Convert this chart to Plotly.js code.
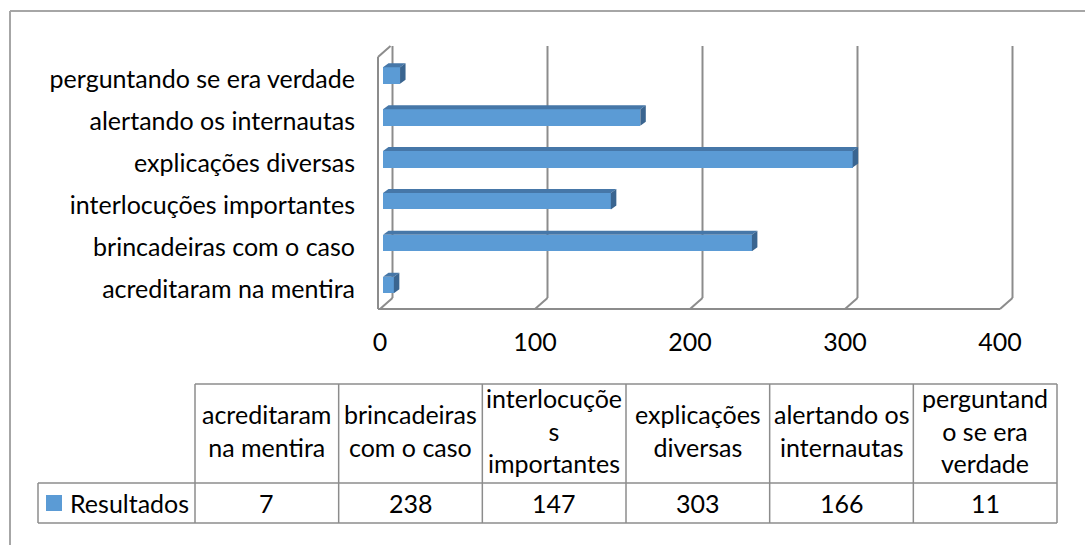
<!DOCTYPE html>
<html>
<head>
<meta charset="utf-8">
<script src="https://cdn.plot.ly/plotly-3.0.1.min.js"></script>
<style>html,body{margin:0;padding:0;background:#fff;}#chart{width:1085px;height:545px;}</style>
</head>
<body>
<div id="chart"></div>
<script>
// ---- data ----
const categories = ["acreditaram na mentira","brincadeiras com o caso","interlocuções importantes","explicações diversas","alertando os internautas","perguntando se era verdade"];
const values = [7, 238, 147, 303, 166, 11];
const tableHeaders = ["acreditaram<br>na mentira","brincadeiras<br>com o caso","interlocuçõe<br>s<br>importantes","explicações<br>diversas","alertando os<br>internautas","perguntand<br>o se era<br>verdade"];
const seriesName = "Resultados";
const xTicks = [0, 100, 200, 300, 400];

// ---- geometry (pixels -> axis units) ----
const W = 1085, H = 545;
const M = {l: 370, r: 65, t: 40, b: 225};
const PW = W - M.l - M.r, PH = H - M.t - M.b;
const PXU = 1.55;      // px per x unit
const PYU = 41.9;      // px per category
const x0px = 380;      // pixel of x=0 on front plane
const c0px = 285;      // pixel of category 0 centre
const xRange = [(M.l - x0px) / PXU, (M.l + PW - x0px) / PXU];
const yRange = [(c0px - (M.t + PH)) / PYU, (c0px - M.t) / PYU];
const FONT = "Lato, 'Liberation Sans', sans-serif";
const FS = 25;

const base = 3 / PXU;          // bar front offset
const half = 16.5 / PYU / 2;   // half bar height
const ddx = 5.5 / PXU, ddy = 4 / PYU; // bar depth
const DX = 12.5 / PXU, DY = 11 / PYU; // wall depth
const yFloor = (c0px - 309) / PYU;
const yTop = (c0px - 57) / PYU;
const xLeft = (378 - x0px) / PXU;

const idx = categories.map((_, i) => i);

// 3D faces
let topX = [], topY = [], sideX = [], sideY = [];
values.forEach((v, i) => {
  const yt = i + half, yb = i - half;
  topX.push(base, base + v, base + v + ddx, base + ddx, base, null);
  topY.push(yt, yt, yt + ddy, yt + ddy, yt, null);
  sideX.push(base + v, base + v + ddx, base + v + ddx, base + v, base + v, null);
  sideY.push(yb, yb + ddy, yt + ddy, yt, yb, null);
});

const traces = [
  {type: 'bar', orientation: 'h', y: idx, x: values, base: base, width: half * 2,
   marker: {color: '#5B9BD5', line: {width: 0}}, name: seriesName, hoverinfo: 'x+text', text: categories, textposition: 'none'},
  {type: 'scatter', mode: 'lines', x: topX, y: topY, fill: 'toself', fillcolor: '#4677A8',
   line: {width: 0, color: '#4677A8'}, hoverinfo: 'skip', showlegend: false},
  {type: 'scatter', mode: 'lines', x: sideX, y: sideY, fill: 'toself', fillcolor: '#3A6590',
   line: {width: 0, color: '#3A6590'}, hoverinfo: 'skip', showlegend: false}
];

const gridCol = '#8C8C8C';
const shapes = [];
function dline(x1, y1, x2, y2) {
  shapes.push({type: 'line', xref: 'x', yref: 'y', x0: x1, y0: y1, x1: x2, y1: y2,
    line: {color: gridCol, width: 2}, layer: 'below'});
}
// left wall
dline(xLeft, yFloor, xLeft, yTop);
dline(xLeft, yTop, xLeft + DX, yTop + DY);
// floor front
dline(xLeft, yFloor, xTicks[xTicks.length - 1], yFloor);
xTicks.forEach(t => {
  dline(t, yFloor, t + DX, yFloor + DY);
  dline(t + DX, yFloor + DY, t + DX, yTop + DY);
});

// paper helpers
const px2x = p => (p - M.l) / PW;
const py2y = p => (M.t + PH - p) / PH;
function pline(xa, ya, xb, yb, col, w) {
  shapes.push({type: 'line', xref: 'paper', yref: 'paper', x0: px2x(xa), y0: py2y(ya), x1: px2x(xb), y1: py2y(yb),
    line: {color: col || '#8C8C8C', width: w || 1.5}});
}
// outer chart border
pline(10, 11, 1100, 11, '#A6A6A6', 2);
pline(10, 11, 10, 560, '#A6A6A6', 2);

// data table
const tL = 195, tR = 1057, tTop = 384, tMid = 483, tBot = 523, legL = 38;
const colW = (tR - tL) / categories.length;
pline(tL, tTop, tR, tTop);
pline(legL, tMid, tR, tMid);
pline(legL, tBot, tR, tBot);
pline(legL, tMid, legL, tBot);
for (let k = 0; k <= categories.length; k++) {
  pline(tL + k * colW, tTop, tL + k * colW, tBot);
}
// legend key
shapes.push({type: 'rect', xref: 'paper', yref: 'paper', x0: px2x(46), x1: px2x(62), y0: py2y(495), y1: py2y(511),
  fillcolor: '#5B9BD5', line: {width: 0}});

const annotations = [];
tableHeaders.forEach((h, k) => {
  annotations.push({xref: 'paper', yref: 'paper', x: px2x(tL + (k + 0.5) * colW), y: py2y((tTop + tMid) / 2 - 3),
    text: h, showarrow: false, xanchor: 'center', yanchor: 'middle', align: 'center',
    font: {family: FONT, size: FS, color: '#000'}});
});
values.forEach((v, k) => {
  annotations.push({xref: 'paper', yref: 'paper', x: px2x(tL + (k + 0.5) * colW), y: py2y((tMid + tBot) / 2),
    text: String(v), showarrow: false, xanchor: 'center', yanchor: 'middle',
    font: {family: FONT, size: FS, color: '#000'}});
});
annotations.push({xref: 'paper', yref: 'paper', x: px2x(68), y: py2y((tMid + tBot) / 2),
  text: seriesName, showarrow: false, xanchor: 'left', yanchor: 'middle',
  font: {family: FONT, size: FS, color: '#000'}});

const layout = {
  width: W, height: H, margin: M, paper_bgcolor: '#fff', plot_bgcolor: 'rgba(0,0,0,0)',
  showlegend: false, bargap: 0,
  font: {family: FONT, size: FS, color: '#000'},
  xaxis: {range: xRange, tickvals: xTicks, showgrid: false, zeroline: false, showline: false, ticks: '',
    ticklabelstandoff: 5, tickfont: {family: FONT, size: FS, color: '#000'}, fixedrange: true},
  yaxis: {range: yRange, tickvals: idx, ticktext: categories, showgrid: false, zeroline: false, showline: false, ticks: '',
    ticklabelstandoff: 14, ticklabelshift: 4, tickfont: {family: FONT, size: FS, color: '#000'}, fixedrange: true},
  shapes: shapes, annotations: annotations
};

Plotly.newPlot('chart', traces, layout, {displayModeBar: false, staticPlot: true});
</script>
</body>
</html>
